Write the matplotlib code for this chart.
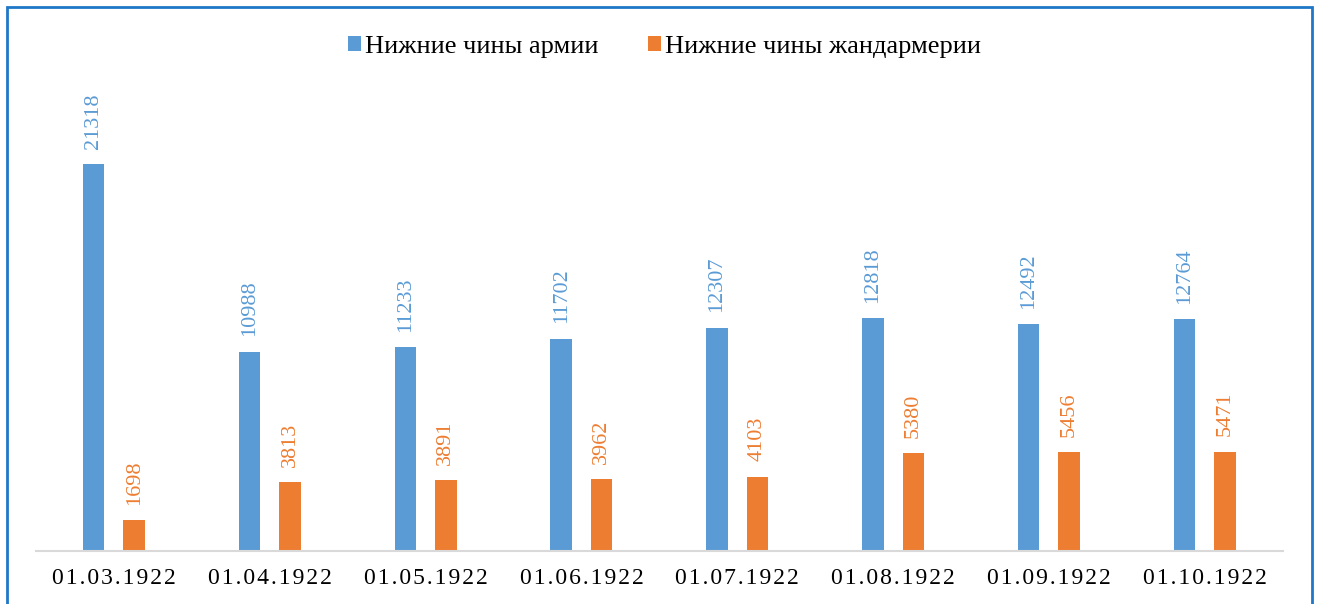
import matplotlib.pyplot as plt
from matplotlib.patches import Rectangle
import numpy as np

dates = ["01.03.1922", "01.04.1922", "01.05.1922", "01.06.1922",
         "01.07.1922", "01.08.1922", "01.09.1922", "01.10.1922"]
army = [21318, 10988, 11233, 11702, 12307, 12818, 12492, 12764]
gendarmes = [1698, 3813, 3891, 3962, 4103, 5380, 5456, 5471]

blue = "#5B9BD5"
orange = "#ED7D31"

plt.rcParams['font.family'] = ['Liberation Serif', 'DejaVu Serif']

fig = plt.figure(figsize=(13.17, 6.04), dpi=100)
ax = fig.add_axes([0.0273, 0.0877, 0.9467, 0.7214])

x = np.arange(len(dates))
w = 0.138
off = 0.13
b1 = ax.bar(x - off, army, w, color=blue, label="Нижние чины армии")
b2 = ax.bar(x + off, gendarmes, w, color=orange, label="Нижние чины жандармерии")

for bars, vals, c in ((b1, army, blue), (b2, gendarmes, orange)):
    for r, v in zip(bars, vals):
        ax.annotate(str(v), (r.get_x() + r.get_width() / 2, v),
                    xytext=(0, 11), textcoords="offset points",
                    rotation=90, ha="center", va="bottom",
                    color=c, fontsize=16)

ax.set_xlim(-0.5, len(dates) - 0.5)
ax.set_ylim(0, 24000)
ax.set_yticks([])
ax.set_xticks(x)
ax.set_xticklabels(["\u200a".join(d) for d in dates], fontsize=17)
ax.tick_params(axis="x", length=0, pad=12)
for s in ("top", "right", "left"):
    ax.spines[s].set_visible(False)
ax.spines["bottom"].set_color("#d9d9d9")
ax.spines["bottom"].set_linewidth(1.5)

fig.legend(loc="center", bbox_to_anchor=(0.5045, 0.922), ncol=2, frameon=False,
           fontsize=19, handlelength=0.5, handleheight=0.5,
           handletextpad=0.15, columnspacing=1.85)

fig.patches.append(Rectangle((7 / 1317, -0.05), 1305 / 1317, 1.05 - 7 / 604,
                             transform=fig.transFigure, fill=False,
                             edgecolor="#1F77C8", linewidth=2))

fig.savefig("out.png", dpi=100)
